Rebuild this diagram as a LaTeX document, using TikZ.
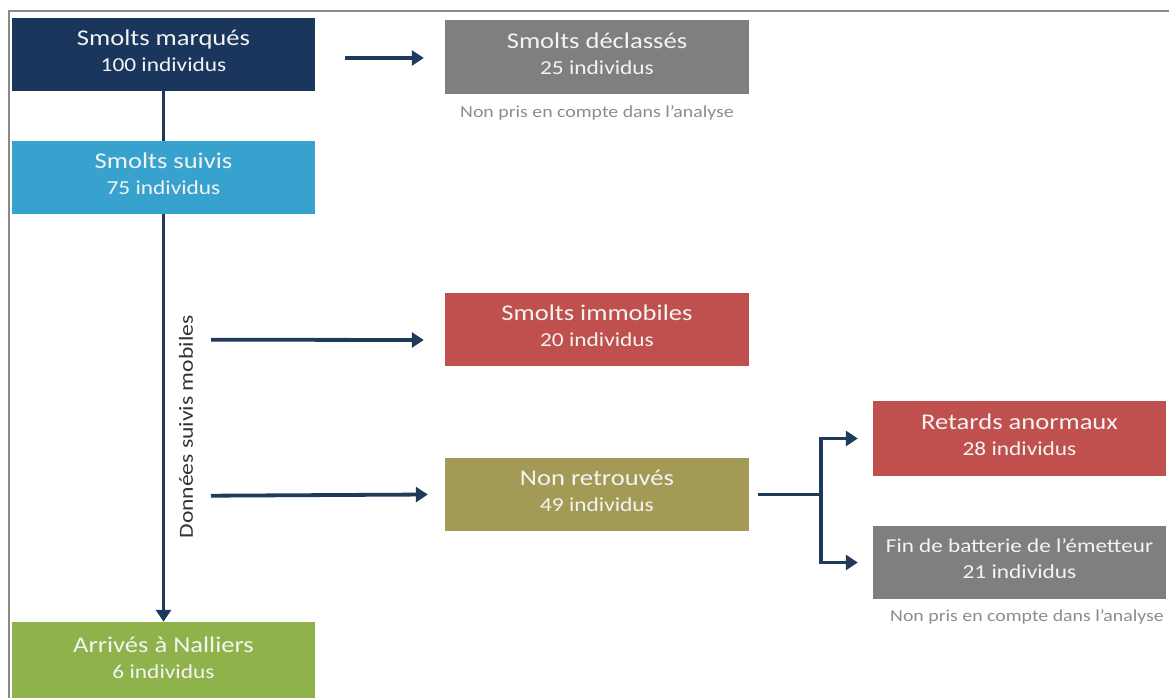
\documentclass[tikz,border=0pt]{standalone}
\usepackage{fontspec}
\setmainfont{Carlito}[FakeStretch=1.18]
\usetikzlibrary{arrows.meta,positioning,calc}
\definecolor{navy}{HTML}{1B365D}
\definecolor{lblue}{HTML}{38A2CF}
\definecolor{dgray}{HTML}{7F7F7F}
\definecolor{bred}{HTML}{C0504D}
\definecolor{olive}{HTML}{A39A55}
\definecolor{bgreen}{HTML}{8FB34A}
\definecolor{arrcol}{HTML}{1F3A5A}
\definecolor{notecol}{HTML}{8C8C8C}
\definecolor{framecol}{HTML}{8A8A8A}
\definecolor{txtw}{HTML}{F4F4F4}
\tikzset{
  box/.style={rectangle, inner sep=0pt, minimum width=303pt, minimum height=73pt,
    text=txtw, align=center, font=\fontsize{22.5}{26}\selectfont},
  conn/.style={draw=arrcol, line width=3.8pt},
  arrow/.style={conn, -{Triangle[length=12pt,width=15pt]}},
  note/.style={text=notecol, font=\fontsize{16.8}{20}\selectfont, inner sep=0pt},
}
\newcommand{\sub}[1]{{\fontsize{19.8}{26}\selectfont #1\rule[-7pt]{0pt}{0pt}}}
\begin{document}
\begin{tikzpicture}[x=1pt,y=-1pt]
\useasboundingbox (0,0) rectangle (1169,698);
% frame
\draw[framecol, line width=1.3pt] (9,698) -- (9,11) -- (1169,11);

% nodes
\node[box, fill=navy] (marq) at (163.5,54.5) {Smolts marqués\\\sub{100 individus}};
\node[box, fill=lblue] (suiv) at (163.5,177.5) {Smolts suivis\\\sub{75 individus}};
\node[box, fill=dgray, minimum width=304pt, minimum height=74pt] (decl) at (597,57) {Smolts déclassés\\\sub{25 individus}};
\node[note] (note1) at (597,113) {Non pris en compte dans l’analyse};
\node[box, fill=bred, minimum width=304pt] (immo) at (597,329.5) {Smolts immobiles\\\sub{20 individus}};
\node[box, fill=olive, minimum width=304pt] (nonr) at (597,494.5) {Non retrouvés\\\sub{49 individus}};
\node[box, fill=bred, minimum width=293pt, minimum height=75pt] (reta) at (1019.5,438.5) {Retards anormaux\\\sub{28 individus}};
\node[box, fill=dgray, minimum width=293pt, font=\fontsize{19.6}{26}\selectfont] (fin) at (1019.5,562.5) {Fin de batterie de l’émetteur\\\sub{21 individus}};
\node[note] (note2) at (1027,617) {Non pris en compte dans l’analyse};
\node[box, fill=bgreen, minimum height=78pt] (arr) at (163.5,661) {Arrivés à Nalliers\\\sub{6 individus}};

% vertical label
\node[rotate=90, text=black!80, font=\fontsize{20}{22}\selectfont, inner sep=0pt] (lab) at (186,427) {Données suivis mobiles};

% connectors
\draw[conn] (marq) -- (suiv);
\draw[arrow] (suiv) -- (arr);
\coordinate (s1) at ($(marq.east)+(30,3.5)$);
\draw[arrow] (s1) -- ([xshift=-21pt,yshift=-1pt]decl.west);
\coordinate (s2) at ($(suiv.south)+(47.5,125.5)$);
\draw[arrow] (s2) -- ([xshift=-21pt,yshift=-10.5pt]immo.west);
\coordinate (s3) at ($(suiv.south)+(47.5,281.5)$);
\draw[arrow] (s3) -- ([xshift=-17pt]nonr.west);
\draw[conn] ([xshift=9pt]nonr.east) -- ++(63,0) coordinate (br);
\draw[arrow] (br) |- ([xshift=-15pt]reta.west);
\draw[arrow] (br) |- ([xshift=-15pt]fin.west);
\end{tikzpicture}
\end{document}
